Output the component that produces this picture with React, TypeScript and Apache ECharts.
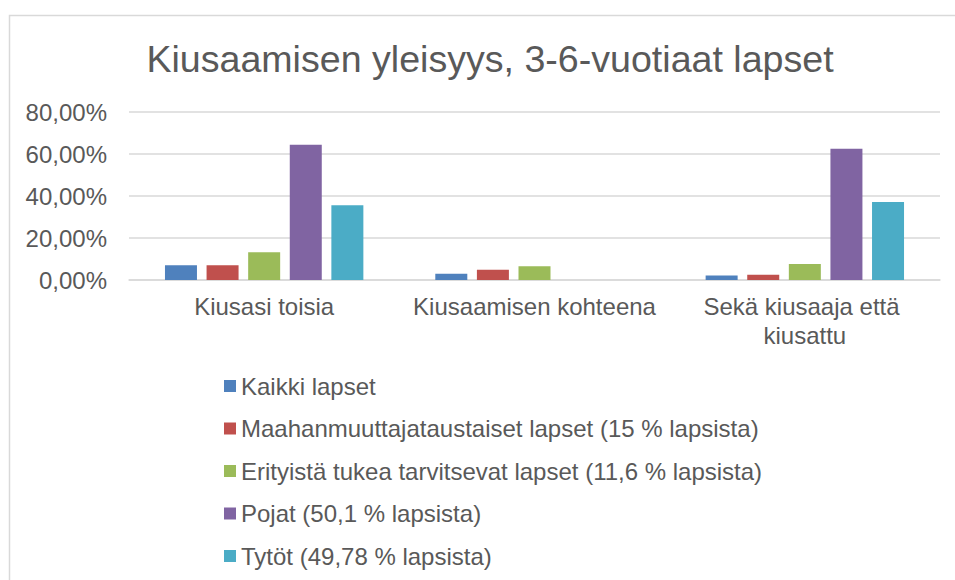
import React, { useEffect, useRef } from "react";
import * as echarts from "echarts";

const categories = ["Kiusasi toisia", "Kiusaamisen kohteena", "Sekä kiusaaja että kiusattu"];
const seriesNames = [
  "Kaikki lapset",
  "Maahanmuuttajataustaiset lapset (15 % lapsista)",
  "Erityistä tukea tarvitsevat lapset (11,6 % lapsista)",
  "Pojat (50,1 % lapsista)",
  "Tytöt (49,78 % lapsista)",
];
const kaikki = [7.0, 3.0, 2.1];
const maahanmuuttaja = [7.0, 4.9, 2.5];
const erityinen = [13.2, 6.5, 7.6];
const pojat = [64.4, 0, 62.5];
const tytot = [35.6, 0, 37.1];
const seriesValues = [kaikki, maahanmuuttaja, erityinen, pojat, tytot];
const colors = ["#4f81bd", "#c0504d", "#9bbb59", "#8064a2", "#4bacc6"];
const titleText = "Kiusaamisen yleisyys, 3-6-vuotiaat lapset";

export default function App() {
  const ref = useRef<HTMLDivElement>(null);
  useEffect(() => {
    if (!ref.current) return;
    const chart = echarts.init(ref.current, undefined, { renderer: "svg" });
    const font = "'Liberation Sans', Arial, sans-serif";
    chart.setOption({
      animation: false,
      color: colors,
      textStyle: { fontFamily: font },
      title: {
        text: titleText,
        left: 485,
        textAlign: "center",
        top: 35,
        textStyle: { fontSize: 37.6, fontWeight: "normal", color: "#595959", fontFamily: font },
      },
      graphic: [
        {
          type: "rect",
          shape: { x: 9.5, y: 15.5, width: 1200, height: 1000 },
          style: { fill: "none", stroke: "#d9d9d9", lineWidth: 1.5 },
          silent: true,
          z: -1,
        },
      ],
      grid: { left: 129, right: 15, top: 112, bottom: 300, containLabel: false },
      legend: {
        orient: "vertical",
        left: 224,
        top: 372,
        height: 320,
        padding: 0,
        itemWidth: 12,
        itemHeight: 12,
        itemGap: 14.5,
        icon: "rect",
        data: seriesNames,
        textStyle: { fontSize: 24, color: "#595959", lineHeight: 28, fontFamily: font },
      },
      xAxis: {
        type: "category",
        data: categories,
        axisLine: { show: true, lineStyle: { color: "#d9d9d9", width: 1.5 } },
        axisTick: { show: false },
        axisLabel: {
          fontSize: 24,
          color: "#595959",
          margin: 12,
          lineHeight: 29,
          width: 250,
          overflow: "break",
          interval: 0,
          fontFamily: font,
        },
      },
      yAxis: {
        type: "value",
        min: 0,
        max: 80,
        interval: 20,
        axisLine: { show: false },
        axisTick: { show: false },
        splitLine: { lineStyle: { color: "#d9d9d9", width: 1.5 } },
        axisLabel: {
          fontSize: 24,
          color: "#595959",
          margin: 22,
          fontFamily: font,
          formatter: (v: number) => v.toFixed(2).replace(".", ",") + "%",
        },
      },
      series: seriesNames.map((name, i) => ({
        name,
        type: "bar",
        data: seriesValues[i],
        barWidth: 32,
        barGap: "30%",
        itemStyle: { color: colors[i] },
      })),
    });
    return () => chart.dispose();
  }, []);
  return (
    <div
      ref={ref}
      style={{ position: "fixed", left: 0, top: 0, width: 955, height: 580, background: "#ffffff" }}
    />
  );
}
